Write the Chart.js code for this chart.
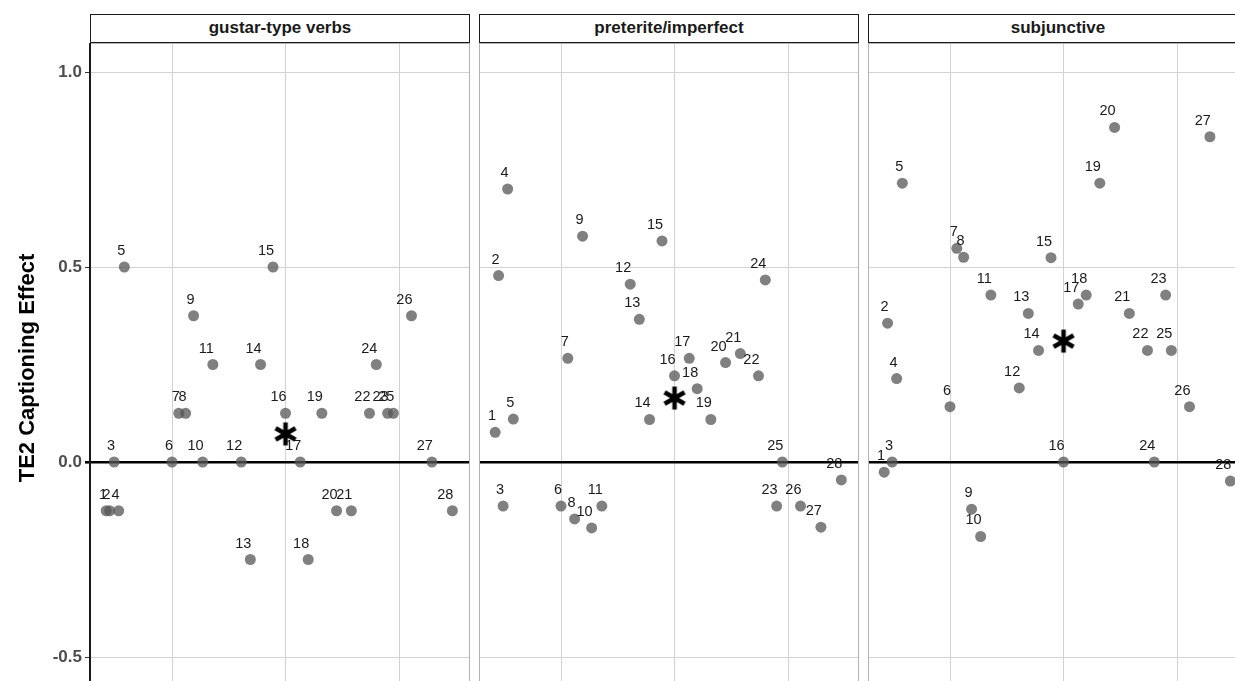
<!DOCTYPE html>
<html>
<head>
<meta charset="utf-8">
<script src="https://cdn.jsdelivr.net/npm/chart.js@4/dist/chart.umd.min.js"></script>
<style>
  html, body { margin: 0; padding: 0; background: #fff; }
  body { width: 1235px; height: 681px; overflow: hidden; position: relative; }
  .strip {
    position: absolute; top: 14px; height: 29px; box-sizing: border-box;
    border: 1.5px solid #1a1a1a; background: #fff; color: #1a1a1a;
    font: bold 17px "Liberation Sans", Arial, sans-serif;
    text-align: center; line-height: 26px;
  }
  canvas { position: absolute; top: 43px; }
</style>
</head>
<body>
<div class="strip" style="left:90px;width:380px">gustar-type verbs</div>
<div class="strip" style="left:479px;width:380px">preterite/imperfect</div>
<div class="strip" style="left:868px;width:380px">subjunctive</div>
<canvas id="p1" width="470" height="650" style="left:0px"></canvas>
<canvas id="p2" width="380" height="650" style="left:479px"></canvas>
<canvas id="p3" width="380" height="650" style="left:868px"></canvas>
<script>
// participants 1..28, shared x position in every panel
const participants = [1, 2, 3, 4, 5, 6, 7, 8, 9, 10, 11, 12, 13, 14, 15, 16, 17, 18, 19, 20, 21, 22, 23, 24, 25, 26, 27, 28];
const xPos = [4.2, 4.5, 4.9, 5.3, 5.8, 10.0, 10.6, 11.2, 11.9, 12.7, 13.6, 16.1, 16.9, 17.8, 18.9, 20.0,
              21.3, 22.0, 23.2, 24.5, 25.8, 27.4, 29.0, 28.0, 29.5, 31.1, 32.9, 34.7];

const gustar = [-0.125, -0.125, 0, -0.125, 0.5, 0, 0.125, 0.125, 0.375, 0, 0.25, 0, -0.25, 0.25,
                0.5, 0.125, 0, -0.25, 0.125, -0.125, -0.125, 0.125, 0.125, 0.25, 0.125, 0.375, 0, -0.125];
const preterite = [0.076, 0.478, -0.113, 0.70, 0.110, -0.113, 0.266, -0.146, 0.579, -0.169, -0.113, 0.456, 0.366, 0.109,
                   0.567, 0.221, 0.266, 0.188, 0.109, 0.255, 0.278, 0.221, -0.113, 0.467, 0, -0.113, -0.167, -0.046];
const subjunctive = [-0.026, 0.356, 0, 0.214, 0.715, 0.142, 0.548, 0.525, -0.121, -0.191, 0.428, 0.190, 0.381, 0.286,
                     0.524, 0, 0.405, 0.428, 0.715, 0.858, 0.381, 0.286, 0.428, 0, 0.286, 0.142, 0.834, -0.049];

const panelNames = ["gustar-type verbs", "preterite/imperfect", "subjunctive"];
const meanX = 20;
const meanY = [0.072, 0.164, 0.31];

const yTicks = [-0.5, 0, 0.5, 1.0];
const xMin = 2.775, xMax = 36.255;
const yMin = -0.5923, yMax = 1.0744;

const FONT = '"Liberation Sans", Arial, sans-serif';

// asterisk marker for the mean
function makeStar() {
    const c = document.createElement("canvas");
    c.width = 30; c.height = 30;
    const g = c.getContext("2d");
    g.strokeStyle = "#000";
    g.lineWidth = 4.5;
    const r = 11.5;
    for (let a of [90, 30, 150]) {
        const t = a * Math.PI / 180;
        g.beginPath();
        g.moveTo(15 - r * Math.cos(t), 15 - r * Math.sin(t));
        g.lineTo(15 + r * Math.cos(t), 15 + r * Math.sin(t));
        g.stroke();
    }
    return c;
}
const star = makeStar();

const pointLabels = {
    id: "pointLabels",
    afterDatasetsDraw(chart) {
        const ctx = chart.ctx;
        const meta = chart.getDatasetMeta(0);
        ctx.save();
        ctx.font = "14.5px " + FONT;
        ctx.fillStyle = "#1a1a1a";
        ctx.textAlign = "right";
        ctx.textBaseline = "middle";
        meta.data.forEach((el, i) => {
            ctx.fillText(String(participants[i]), el.x + 1, el.y - 16);
        });
        ctx.restore();
    }
};

const panelBox = {
    id: "panelBox",
    afterDraw(chart, args, opts) {
        const ctx = chart.ctx, a = chart.chartArea;
        ctx.save();
        ctx.strokeStyle = "#b3b3b3";
        ctx.lineWidth = 1;
        ctx.strokeRect(a.left + 0.5, a.top + 0.5, a.width - 1, a.height - 1);
        if (opts.axisLine) {
            ctx.strokeStyle = "#1a1a1a";
            ctx.lineWidth = 2;
            ctx.beginPath();
            ctx.moveTo(a.left, a.top);
            ctx.lineTo(a.left, a.bottom);
            ctx.stroke();
        }
        ctx.restore();
    }
};

function gridColor(c) {
    return c.tick && c.tick.value === 0 ? "#000" : "#d2d2d2";
}
function gridWidth(c) {
    return c.tick && c.tick.value === 0 ? 2.6 : 1;
}

function makePanel(id, values, mean, first) {
    const pts = values.map((v, i) => ({ x: xPos[i], y: v }));
    new Chart(document.getElementById(id), {
        type: "scatter",
        data: {
            datasets: [{
                data: pts,
                pointRadius: 5.5,
                pointBackgroundColor: "rgba(85,85,85,0.75)",
                pointBorderWidth: 0
            }, {
                data: [{ x: meanX, y: mean }],
                pointStyle: star,
                pointRadius: 15
            }]
        },
        options: {
            responsive: false,
            animation: false,
            events: [],
            layout: { padding: 0, autoPadding: false },
            plugins: {
                legend: { display: false },
                tooltip: { enabled: false },
                panelBox: { axisLine: first }
            },
            scales: {
                x: {
                    type: "linear", min: xMin, max: xMax,
                    afterFit: s => { s.height = 0; s.paddingLeft = 0; s.paddingRight = 0; },
                    ticks: { display: false, stepSize: 10, includeBounds: false },
                    grid: { color: "#d2d2d2", lineWidth: 1, drawTicks: false },
                    border: { display: false }
                },
                y: {
                    type: "linear", min: yMin, max: yMax,
                    afterFit: s => { s.width = first ? 90 : 0; s.paddingTop = 0; s.paddingBottom = 0; },
                    afterBuildTicks: s => { s.ticks = yTicks.map(v => ({ value: v })); },
                    ticks: {
                        display: first,
                        font: { family: FONT, size: 17, weight: "bold" },
                        color: "#4d4d4d",
                        padding: 3,
                        callback: v => v.toFixed(1)
                    },
                    grid: {
                        color: gridColor, lineWidth: gridWidth,
                        drawTicks: first, tickLength: 5,
                        tickColor: c => c.tick && c.tick.value === 0 ? "#000" : "#333"
                    },
                    border: { display: false },
                    title: {
                        display: first,
                        text: "TE2 Captioning Effect",
                        font: { family: FONT, size: 22, weight: "bold" },
                        color: "#000",
                        padding: { top: 15, bottom: 0 }
                    }
                }
            }
        },
        plugins: [pointLabels, panelBox]
    });
}

document.addEventListener("DOMContentLoaded", function () {
    makePanel("p1", gustar, meanY[0], true);
    makePanel("p2", preterite, meanY[1], false);
    makePanel("p3", subjunctive, meanY[2], false);
});
</script>
</body>
</html>
